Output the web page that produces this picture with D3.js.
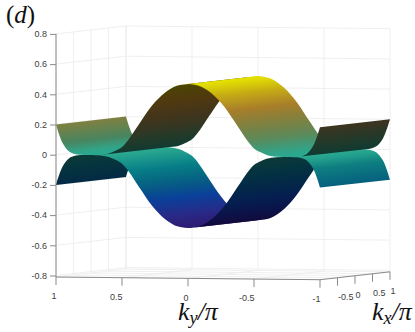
<!DOCTYPE html>
<html>
<head>
<meta charset="utf-8">
<script src="https://cdn.jsdelivr.net/npm/d3@7"></script>
<style>
  html, body { margin: 0; padding: 0; background: #fff; }
  svg { display: block; }
  text { font-family: "Liberation Sans", sans-serif; }
  .math { font-family: "Liberation Serif", serif; fill: #111; }
</style>
</head>
<body>
<script>
// band energy, kx does not change it
const kySamples = [1, 0.95, 0.9, 0.85, 0.8, 0.75, 0.7, 0.65, 0.6, 0.55, 0.5, 0.45, 0.4, 0.35, 0.3, 0.25, 0.2, 0.15, 0.1, 0.05,
  0, -0.05, -0.1, -0.15, -0.2, -0.25, -0.3, -0.35, -0.4, -0.45, -0.5, -0.55, -0.6, -0.65, -0.7, -0.75, -0.8, -0.85, -0.9, -0.95, -1];
const upperBand = [0.2, 0.078, 0.022, 0.004, 0.001, 0, 0.001, 0.003, 0.011, 0.03, 0.055, 0.105, 0.17, 0.235, 0.3, 0.355, 0.4, 0.435, 0.46, 0.472,
  0.477, 0.472, 0.46, 0.435, 0.4, 0.355, 0.3, 0.235, 0.17, 0.105, 0.055, 0.03, 0.011, 0.003, 0.001, 0, 0.001, 0.004, 0.022, 0.078, 0.2];
const lowerBand = upperBand.map(d => -d);
const kxEnds = [-1, 1];

const kyTicks = [1, 0.5, 0, -0.5, -1];
const kxTicks = [-1, -0.5, 0, 0.5, 1];
const zTicks = [0.8, 0.6, 0.4, 0.2, 0, -0.2, -0.4, -0.6, -0.8];
const kxTickLabels = ["-0.5", "0", "0.5", "1"];

const width = 415, height = 332;
const zFloor = -0.81;

const zScale = d3.scaleLinear().domain([0, 1]).range([154.7, 3.7]);
const kyToX = d3.scaleLinear().domain([1, -1]).range([56, 320]);
const kxToX = d3.scaleLinear().domain([-1, 1]).range([0, 70]);
const kyToY = d3.scaleLinear().domain([1, -1]).range([0, 2.7]);
const kxToY = d3.scaleLinear().domain([-1, 1]).range([0, -7.9]);

function project(ky, kx, z) {
  return [kyToX(ky) + kxToX(kx), zScale(z) + kyToY(ky) + kxToY(kx)];
}

// seen from above vs seen from underneath
const litColor = d3.scaleLinear()
  .domain([-0.48, -0.4, -0.3, -0.2, -0.1, 0, 0.05, 0.1, 0.2, 0.3, 0.4, 0.48])
  .range(["#2f1a72", "#282a88", "#0a409a", "#05607f", "#078088", "#2aa88f", "#3f9a78", "#5a8a5c", "#7f8040", "#a87e2a", "#c6ac14", "#e6e400"]);
const darkColor = d3.scaleLinear()
  .domain([-0.48, -0.4, -0.3, -0.2, -0.1, 0, 0.1, 0.2, 0.35, 0.48])
  .range(["#12083a", "#0c1248", "#041f50", "#032a45", "#043440", "#0e3a34", "#243a28", "#3d3420", "#50380f", "#4a4800"]);
// the steepest lit parts, near ky = +-1, catch less light
const steepMix = d3.scaleLinear().domain([0.065, 0.122]).range([0, 0.32]).clamp(true);

const svg = d3.select("body").append("svg").attr("width", width).attr("height", height);
const defs = svg.append("defs");

// walls and floor
const grid = svg.append("g").attr("stroke", "#ebebeb").attr("stroke-width", 0.8).attr("fill", "none");
function gridLine(a, b) {
  grid.append("line").attr("x1", a[0]).attr("y1", a[1]).attr("x2", b[0]).attr("y2", b[1]);
}
zTicks.forEach(z => {
  gridLine(project(1, -1, z), project(1, 1, z));
  gridLine(project(1, 1, z), project(-1, 1, z));
});
kxTicks.forEach(kx => {
  gridLine(project(1, kx, zFloor), project(1, kx, 0.8));
  gridLine(project(1, kx, zFloor), project(-1, kx, zFloor));
});
kyTicks.forEach(ky => {
  gridLine(project(ky, 1, zFloor), project(ky, 1, 0.8));
  gridLine(project(ky, -1, zFloor), project(ky, 1, zFloor));
});

// surfaces, far parts first and the lower band under the upper one
const surface = svg.append("g");
const edgeCurve = d3.line().curve(d3.curveCatmullRom);
let gradId = 0;

// which side of the sheet the strip i -> i+1 shows on screen
function isLit(band, i) {
  const a = project(kySamples[i], kxEnds[0], band[i]), b = project(kySamples[i], kxEnds[1], band[i]);
  const d = project(kySamples[i + 1], kxEnds[0], band[i + 1]);
  return (b[0] - a[0]) * (d[1] - a[1]) - (b[1] - a[1]) * (d[0] - a[0]) > 0;
}

// one path with one gradient per run of strips on the same side, no seams that way
function drawRun(band, first, last, lit) {
  const ids = d3.range(first, last + 1);
  const front = ids.map(i => project(kySamples[i], kxEnds[0], band[i]));
  const back = ids.map(i => project(kySamples[i], kxEnds[1], band[i])).reverse();
  const ex = back[0][0] - front[front.length - 1][0], ey = back[0][1] - front[front.length - 1][1];
  const len = Math.hypot(ex, ey);
  const nx = -ey / len, ny = ex / len;
  const along = front.map(p => (p[0] - front[0][0]) * nx + (p[1] - front[0][1]) * ny);
  const reach = along[along.length - 1];
  const id = "run" + gradId++;
  const grad = defs.append("linearGradient").attr("id", id)
    .attr("gradientUnits", "userSpaceOnUse")
    .attr("x1", front[0][0]).attr("y1", front[0][1])
    .attr("x2", front[0][0] + nx * reach).attr("y2", front[0][1] + ny * reach);
  ids.forEach((i, j) => {
    const z = band[i];
    let color = darkColor(z);
    if (lit) {
      const slope = Math.abs(band[Math.min(i + 1, band.length - 1)] - band[Math.max(i - 1, 0)]) / 2;
      color = d3.interpolateRgb(litColor(z), darkColor(z))(steepMix(slope));
    }
    grad.append("stop").attr("offset", along[j] / reach).attr("stop-color", color);
  });
  surface.append("path")
    .attr("d", edgeCurve(front) + "L" + edgeCurve(back).slice(1) + "Z")
    .attr("fill", `url(#${id})`);
}

function drawBand(band) {
  let first = 0;
  for (let i = 1; i < kySamples.length - 1; i++) {
    if (isLit(band, i) !== isLit(band, first)) {
      drawRun(band, first, i, isLit(band, first));
      first = i;
    }
  }
  drawRun(band, first, kySamples.length - 1, isLit(band, first));
}
drawBand(lowerBand);
drawBand(upperBand);

// z axis
const zAxis = d3.axisLeft(zScale).tickValues(zTicks).tickSize(6).tickPadding(3).tickFormat(String);
const zG = svg.append("g").attr("transform", "translate(56,0)").call(zAxis);
zG.select(".domain").remove();
zG.selectAll("line").attr("stroke", "#8a8a8a");
zG.selectAll("text").attr("font-size", 9).attr("font-family", "Liberation Sans").attr("fill", "#404040");

// box edges
const edges = svg.append("g").attr("stroke", "#8a8a8a").attr("stroke-width", 1).attr("fill", "none");
const edgeLine = d3.line();
edges.append("path").attr("d", edgeLine([project(1, -1, 0.8), project(1, -1, zFloor), project(-1, -1, zFloor), project(-1, 1, zFloor)]));

kyTicks.forEach(ky => {
  const p = project(ky, -1, zFloor);
  edges.append("line").attr("x1", p[0]).attr("y1", p[1]).attr("x2", p[0]).attr("y2", p[1] + 8);
  svg.append("text").attr("x", p[0] + 0.5).attr("y", p[1] + 22.3).attr("text-anchor", "end")
    .attr("font-size", 9).attr("fill", "#404040").text(ky);
});
kxTicks.slice(1).forEach((kx, i) => {
  const p = project(-1, kx, zFloor);
  edges.append("line").attr("x1", p[0]).attr("y1", p[1]).attr("x2", p[0]).attr("y2", p[1] + 8);
  svg.append("text").attr("x", p[0] + 0.5).attr("y", p[1] + 22.6)
    .attr("font-size", 9).attr("fill", "#404040").text(kxTickLabels[i]);
});

// math labels
function mathLabel(x, y, size, parts) {
  const t = svg.append("text").attr("class", "math").attr("x", x).attr("y", y).attr("font-size", size);
  parts.forEach(part => {
    const s = t.append("tspan").text(part.text);
    if (part.italic) s.attr("font-style", "italic");
    if (part.sub) s.attr("font-size", size * 0.7).attr("dy", size * 0.17);
    if (part.up) s.attr("dy", -size * 0.17);
  });
}
mathLabel(6, 23, 25, [{ text: "(" }, { text: "d", italic: true }, { text: ")" }]);
mathLabel(178, 320, 26, [{ text: "k", italic: true }, { text: "y", italic: true, sub: true }, { text: "/π", italic: true, up: true }]);
mathLabel(372, 320, 26, [{ text: "k", italic: true }, { text: "x", italic: true, sub: true }, { text: "/π", italic: true, up: true }]);
</script>
</body>
</html>
